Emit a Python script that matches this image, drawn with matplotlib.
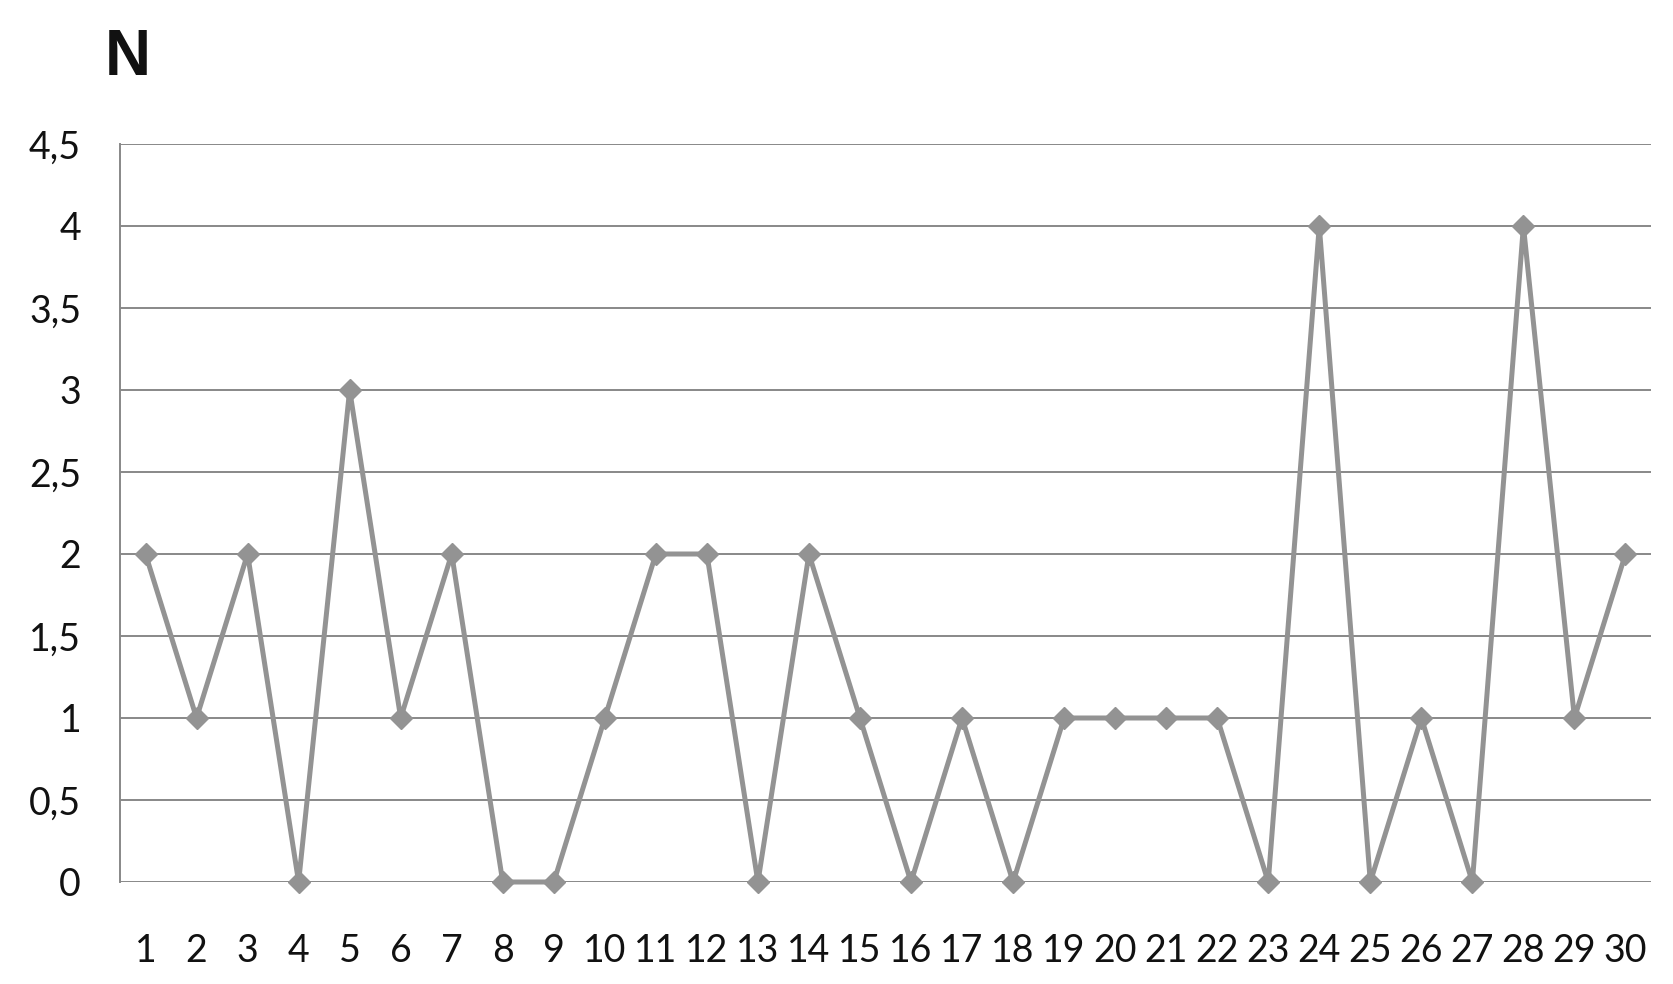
import matplotlib
matplotlib.use("Agg")
import matplotlib.pyplot as plt

categories = [str(i) for i in range(1, 31)]
values = [2, 1, 2, 0, 3, 1, 2, 0, 0, 1, 2, 2, 0, 2, 1, 0, 1, 0, 1, 1, 1, 1, 0, 4, 0, 1, 0, 4, 1, 2]
y_ticks = [0, 0.5, 1, 1.5, 2, 2.5, 3, 3.5, 4, 4.5]
y_tick_labels = ["0", "0,5", "1", "1,5", "2", "2,5", "3", "3,5", "4", "4,5"]
title = "N"

W, H = 1674, 984
fig = plt.figure(figsize=(W / 100, H / 100), dpi=100)
ax = fig.add_axes([120 / W, 1 - 882 / H, (1651 - 120) / W, (882 - 144) / H])

x = list(range(1, len(values) + 1))
grid_color = "#888888"
for t in y_ticks:
    ax.axhline(t, color=grid_color, lw=1.4, zorder=1)
ax.plot(x, values, color="#939393", lw=3.6, marker="D", ms=11,
        mfc="#939393", mec="#939393", clip_on=False, zorder=3)

ax.set_xlim(0.5, len(values) + 0.5)
ax.set_ylim(0, 4.5)
ax.set_yticks(y_ticks)
ax.set_yticklabels(y_tick_labels)
ax.set_xticks(x)
ax.set_xticklabels(categories)
for s in ["top", "right", "bottom"]:
    ax.spines[s].set_visible(False)
ax.spines["left"].set_color(grid_color)
ax.spines["left"].set_linewidth(1.4)
ax.tick_params(axis="both", length=0, labelsize=27, colors="#111111")
ax.tick_params(axis="y", pad=28)
ax.tick_params(axis="x", pad=37)
for lab in ax.get_xticklabels() + ax.get_yticklabels():
    lab.set_fontfamily("Lato")

fig.text(105 / W, 1 - 75 / H, title, fontsize=46, fontweight="bold",
         fontfamily="Liberation Sans", color="#111111", va="baseline", ha="left")

fig.savefig("out.png", dpi=100, facecolor="white")
